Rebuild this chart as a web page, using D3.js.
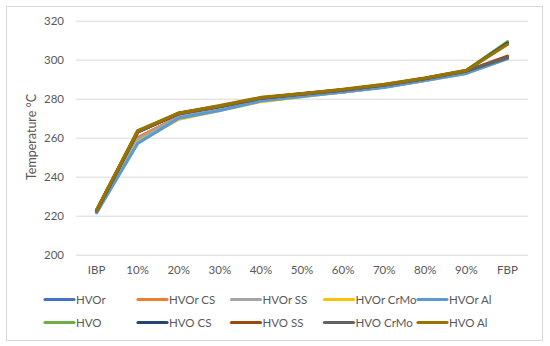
<!DOCTYPE html>
<html>
<head>
<meta charset="utf-8">
<script src="https://cdn.jsdelivr.net/npm/d3@7"></script>
<style>
  body { margin: 0; background: #fff; }
  text { font-family: Lato, "Open Sans", sans-serif; fill: #595959; }
</style>
</head>
<body>
<div id="chart"></div>
<script>
// categories (distillation points)
var categories = ["IBP", "10%", "20%", "30%", "40%", "50%", "60%", "70%", "80%", "90%", "FBP"];
var yTicks = [200, 220, 240, 260, 280, 300, 320];

// series values
var hvor      = [222.0, 259.5, 270.5, 274.5, 279.0, 281.5, 283.5, 286.0, 289.5, 293.5, 301.0];
var hvorCS    = [222.0, 260.0, 270.8, 274.6, 279.0, 281.5, 283.6, 286.0, 289.5, 293.5, 301.0];
var hvorSS    = [222.0, 259.0, 270.5, 274.5, 279.0, 281.5, 283.5, 286.0, 289.5, 293.5, 301.0];
var hvorCrMo  = [221.5, 257.5, 269.5, 274.0, 278.5, 281.0, 283.4, 286.0, 289.4, 293.0, 301.0];
var hvorAl    = [221.5, 257.0, 270.0, 274.0, 278.8, 281.2, 283.4, 285.8, 289.3, 293.0, 300.5];
var hvo       = [222.5, 263.0, 272.5, 276.2, 280.4, 282.5, 284.6, 287.2, 290.5, 294.5, 309.2];
var hvoCS     = [222.5, 262.8, 272.4, 276.0, 280.3, 282.4, 284.5, 287.0, 290.4, 294.3, 308.5];
var hvoSS     = [222.5, 263.0, 272.4, 276.0, 280.3, 282.4, 284.5, 287.0, 290.4, 294.2, 301.8];
var hvoCrMo   = [222.5, 263.0, 272.2, 276.0, 280.2, 282.3, 284.4, 287.0, 290.3, 294.2, 301.0];
var hvoAl     = [222.8, 263.5, 272.6, 276.4, 280.6, 282.6, 284.8, 287.3, 290.6, 294.5, 307.8];

var seriesNames  = ["HVOr", "HVOr CS", "HVOr SS", "HVOr CrMo", "HVOr Al",
                    "HVO", "HVO CS", "HVO SS", "HVO CrMo", "HVO Al"];
var seriesValues = [hvor, hvorCS, hvorSS, hvorCrMo, hvorAl, hvo, hvoCS, hvoSS, hvoCrMo, hvoAl];
var seriesColors = ["#4472C4", "#ED7D31", "#A5A5A5", "#FFC000", "#5B9BD5",
                    "#70AD47", "#264478", "#9E480E", "#636363", "#997300"];

var W = 550, H = 346;
var margin = {top: 20.7, right: 22, bottom: 91.5, left: 76};
var width = W - margin.left - margin.right;
var height = H - margin.top - margin.bottom;

var svg = d3.select("#chart")
    .append("svg")
        .attr("width", W)
        .attr("height", H);

// outer frame
svg.append("rect")
    .attr("x", 6.5).attr("y", 6.5)
    .attr("width", 536).attr("height", 334)
    .attr("fill", "#fff")
    .attr("stroke", "#d9d9d9")
    .attr("stroke-width", 1);

var g = svg.append("g")
    .attr("transform", "translate(" + margin.left + "," + margin.top + ")");

var xScale = d3.scaleBand()
    .domain(categories)
    .range([0, width]);

var yScale = d3.scaleLinear()
    .domain([200, 320])
    .range([height, 0]);

// gridlines
g.append("g")
    .selectAll("line")
    .data(yTicks)
    .enter()
    .append("line")
        .attr("x1", 0)
        .attr("x2", width)
        .attr("y1", d => Math.round(yScale(d)) + 0.5)
        .attr("y2", d => Math.round(yScale(d)) + 0.5)
        .attr("stroke", "#d9d9d9")
        .attr("stroke-width", 1);

// y axis labels
var yAxis = g.append("g")
    .call(d3.axisLeft(yScale).tickValues(yTicks).tickSize(0).tickPadding(12));
yAxis.select(".domain").remove();
yAxis.selectAll("text")
    .style("font-size", "11.5px")
    .attr("fill", "#595959");

// x axis labels
var xAxis = g.append("g")
    .attr("transform", "translate(0," + height + ")")
    .call(d3.axisBottom(xScale).tickSize(0).tickPadding(11));
xAxis.select(".domain").remove();
xAxis.selectAll("text")
    .style("font-size", "11.5px")
    .attr("fill", "#595959");

// y axis title
svg.append("text")
    .attr("transform", "translate(36,137) rotate(-90)")
    .style("text-anchor", "middle")
    .style("font-size", "12.5px")
    .text("Temperature °C");

// lines
var line = d3.line()
    .x((d, i) => xScale(categories[i]) + xScale.bandwidth() / 2)
    .y(d => yScale(d));

g.append("g")
    .selectAll("path")
    .data(seriesValues)
    .enter()
    .append("path")
        .attr("d", line)
        .attr("fill", "none")
        .attr("stroke", (d, i) => seriesColors[i])
        .attr("stroke-width", 3.2)
        .attr("stroke-linejoin", "round")
        .attr("stroke-linecap", "round");

// legend
var legend = svg.append("g");
var colX = [45, 138, 231.5, 324.5, 418];
var rowY = [299.5, 322.5];

var items = legend.selectAll("g")
    .data(seriesNames)
    .enter()
    .append("g")
        .attr("transform", (d, i) => "translate(" + colX[i % 5] + "," + rowY[Math.floor(i / 5)] + ")");

items.append("line")
    .attr("x1", 0).attr("x2", 29)
    .attr("y1", 0).attr("y2", 0)
    .attr("stroke", (d, i) => seriesColors[i])
    .attr("stroke-width", 3.2)
    .attr("stroke-linecap", "round");

items.append("text")
    .attr("x", 31)
    .attr("dy", "0.36em")
    .style("font-size", "11.5px")
    .text(d => d);
</script>
</body>
</html>
